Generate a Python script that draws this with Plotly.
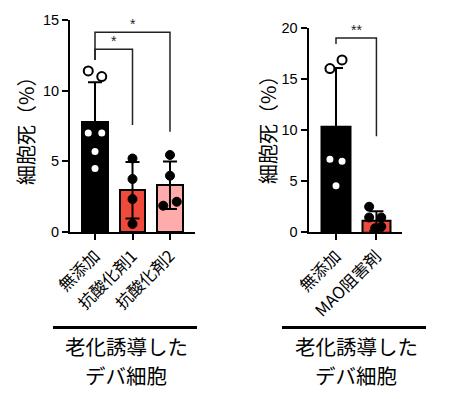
import plotly.graph_objects as go

# ---------------- data ----------------
left_cats = ["無添加", "抗酸化剤1", "抗酸化剤2"]
left_means = [7.75, 2.95, 3.3]
left_sd = [2.85, 2.0, 1.68]
left_pts = [[11.4, 11.0, 7.0, 7.0, 5.7, 4.5],
            [5.2, 3.75, 2.33, 0.57],
            [5.45, 3.98, 1.86, 2.14]]
left_jitter = [[-0.18, 0.18, -0.18, 0.18, 0.0, 0.0],
               [0.0, 0.0, 0.0, 0.0],
               [0.0, 0.0, -0.18, 0.18]]
left_colors = ["#000000", "#f04a3c", "#ffabab"]
left_ticks = [0, 5, 10, 15]

right_cats = ["無添加", "MAO阻害剤"]
right_means = [10.3, 1.1]
right_sd = [5.75, 0.95]
right_pts = [[16.0, 16.85, 7.15, 6.95, 4.55],
             [2.5, 1.45, 1.45, 0.4, 0.55]]
right_jitter = [[-0.15, 0.15, -0.15, 0.15, 0.0],
                [-0.18, -0.18, 0.12, -0.03, 0.12]]
right_colors = ["#000000", "#f04a3c"]
right_ticks = [0, 5, 10, 15, 20]

# significance brackets: (from, to, top, left_leg_bottom, right_leg_bottom, label)
left_sig = [(0, 2, 14.13, 12.17, 7.1, "*"),
            (0, 1, 12.93, 12.17, 7.57, "*")]
right_sig = [(0, 1, 19.0, 18.4, 9.4, "**")]

ytitle = "細胞死（%）"
group_lines = ["老化誘導した", "デバ細胞"]

FONT = "Liberation Sans, Arial, Noto Sans CJK JP"
JP = "Noto Sans CJK JP, Liberation Sans"

W, H = 450, 399
def px(x): return x / W
def py(y): return 1 - y / H

fig = go.Figure()

def add_panel(cats, means, sd, pts, jit, colors, xa, ya, wbar, open_first=True):
    xs = list(range(len(cats)))
    fig.add_trace(go.Bar(
        x=xs, y=means, width=wbar, xaxis=xa, yaxis=ya,
        marker=dict(color=colors, line=dict(color="black", width=2)),
        error_y=dict(type="data", array=sd, color="black", thickness=2, width=7),
        showlegend=False, hoverinfo="skip"))
    for i, (p, j) in enumerate(zip(pts, jit)):
        if i == 0 and open_first:
            mk = dict(size=9, color="white", line=dict(color="black", width=2))
        else:
            mk = dict(size=9, color="black", line=dict(color="black", width=1))
        fig.add_trace(go.Scatter(
            x=[xs[i] + d for d in j], y=p, mode="markers", xaxis=xa, yaxis=ya,
            marker=mk, showlegend=False, hoverinfo="skip", cliponaxis=False))

add_panel(left_cats, left_means, left_sd, left_pts, left_jitter, left_colors, "x", "y", 0.67)
add_panel(right_cats, right_means, right_sd, right_pts, right_jitter, right_colors, "x2", "y2", 0.71)

shapes = []
annotations = []

def add_sig(sig, xref, yref):
    for (a, b, top, lb, rb, lab) in sig:
        path = f"M {a},{lb} L {a},{top} L {b},{top} L {b},{rb}"
        shapes.append(dict(type="path", path=path, xref=xref, yref=yref,
                           line=dict(color="#222222", width=1.5)))
        annotations.append(dict(x=(a + b) / 2, y=top, xref=xref, yref=yref,
                                text=lab, showarrow=False, yanchor="bottom",
                                yshift=-2, font=dict(family=FONT, size=14, color="#222222")))

add_sig(left_sig, "x", "y")
add_sig(right_sig, "x2", "y2")

# y titles
for xc, yc in [(25, 126), (268, 125)]:
    annotations.append(dict(x=px(xc), y=py(yc), xref="paper", yref="paper",
                            text=ytitle, textangle=-90, showarrow=False,
                            xanchor="center", yanchor="middle",
                            font=dict(family=JP, size=20, color="black")))

# group lines and labels
for x0, x1, xc in [(53, 197, 126), (282, 426, 356)]:
    shapes.append(dict(type="line", xref="paper", yref="paper",
                       x0=px(x0), x1=px(x1), y0=py(327.5), y1=py(327.5),
                       line=dict(color="black", width=3)))
    for txt, yc in zip(group_lines, [346, 375]):
        annotations.append(dict(x=px(xc), y=py(yc), xref="paper", yref="paper",
                                text=txt, showarrow=False, borderpad=0,
                                xanchor="center", yanchor="middle",
                                font=dict(family=JP, size=20.5, color="black")))

axis_common = dict(showline=True, linecolor="black", linewidth=2,
                   ticks="outside", ticklen=6, tickwidth=2, tickcolor="black",
                   showgrid=False, zeroline=False, automargin=False)

fig.update_layout(
    template="none",
    width=W, height=H, margin=dict(l=0, r=0, t=0, b=0),
    paper_bgcolor="white", plot_bgcolor="white",
    bargap=0,
    xaxis=dict(domain=[px(70), px(195)], range=[-0.667, 2.667], anchor="y",
               tickvals=list(range(len(left_cats))), ticktext=left_cats,
               tickangle=-45, tickfont=dict(family=JP, size=16.5, color="black"),
               **axis_common),
    yaxis=dict(domain=[py(232), py(20)], range=[0, 15], anchor="x",
               tickvals=left_ticks, tickfont=dict(family=FONT, size=14.5, color="black"),
               **axis_common),
    xaxis2=dict(domain=[px(308.5), px(401.5)], range=[-0.68, 1.62], anchor="y2",
                tickvals=list(range(len(right_cats))), ticktext=right_cats,
                tickangle=-45, tickfont=dict(family=JP, size=16.5, color="black"),
                **axis_common),
    yaxis2=dict(domain=[py(232.3), py(27.7)], range=[0, 20], anchor="x2",
                tickvals=right_ticks, tickfont=dict(family=FONT, size=14.5, color="black"),
                **axis_common),
    shapes=shapes, annotations=annotations,
)

fig.write_html("out.html", config={"displayModeBar": False},
               post_script="document.body.style.margin='0';document.body.style.overflow='hidden';")
